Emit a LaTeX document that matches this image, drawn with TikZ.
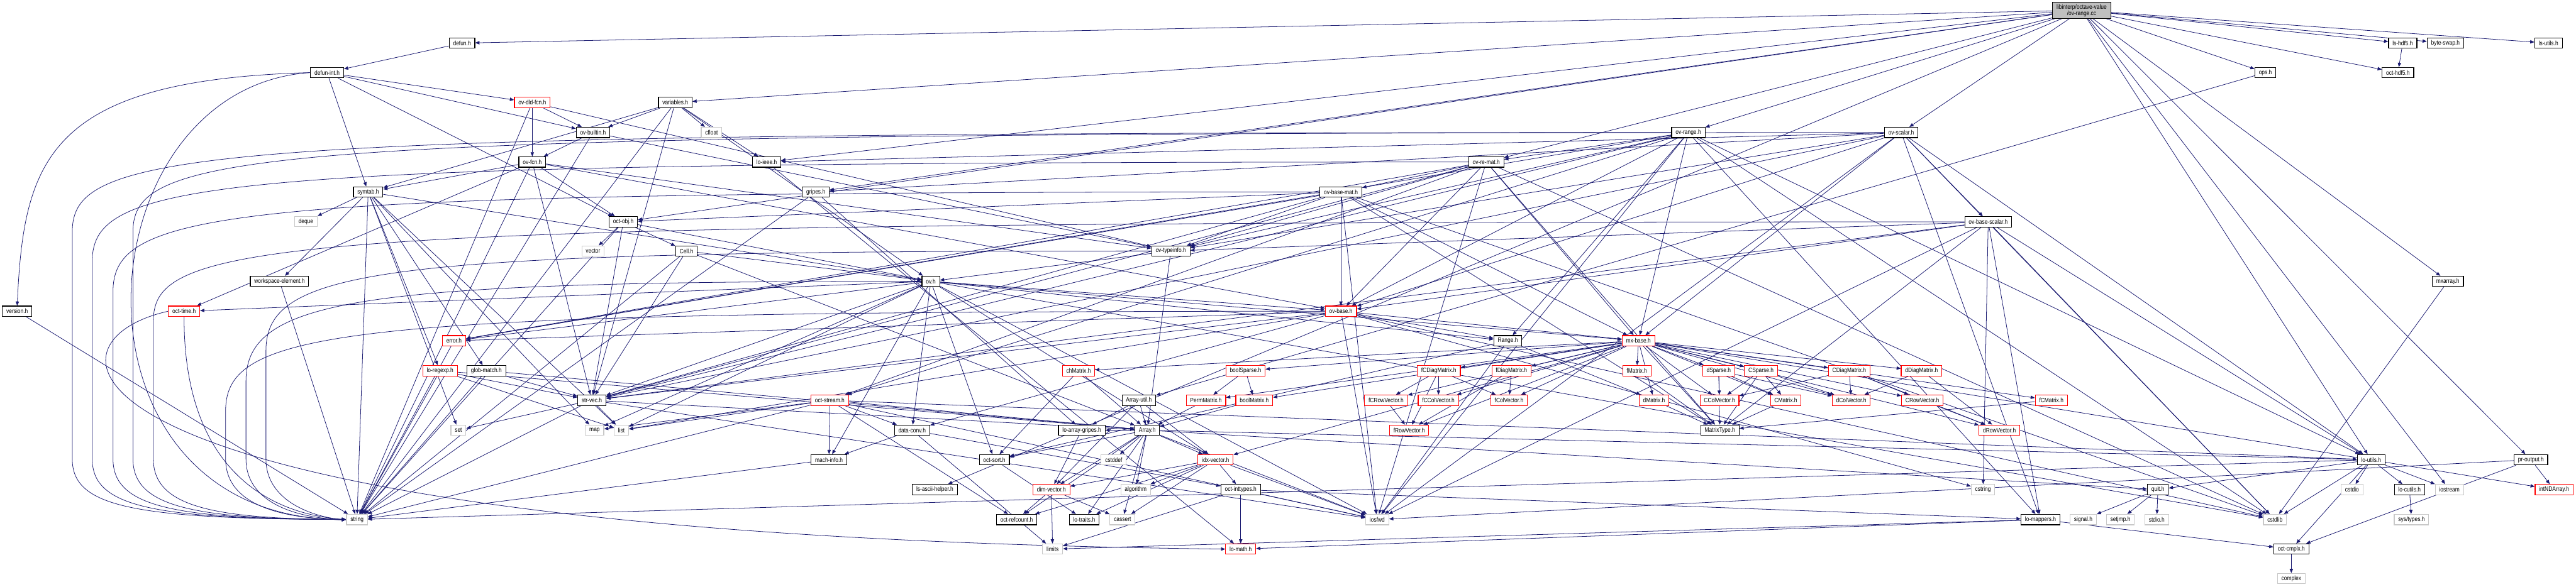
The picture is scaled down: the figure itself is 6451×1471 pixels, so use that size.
\documentclass[tikz,border=0pt]{standalone}
\usepackage{fontspec}
\setmainfont{Liberation Sans}[FakeStretch=0.83]
\usetikzlibrary{arrows.meta,backgrounds}
\definecolor{edgeblue}{HTML}{191970}
\definecolor{rootgray}{HTML}{BFBFBF}
\definecolor{sysgray}{HTML}{C8C8C8}

\tikzset{
  hdr/.style={draw=black, line width=0.5pt, fill=white,
    font=\fontsize{4.55}{4.4}\selectfont, inner xsep=0.1cm, inner ysep=0pt,
    minimum height=0.26cm},
  hdrred/.style={hdr, draw=red},
  sysinc/.style={hdr, draw=sysgray},
  inc/.style={draw=edgeblue, line width=0.35pt, -{Triangle[length=3pt,width=2.4pt]}},
}

\begin{document}
\begin{tikzpicture}[x=0.01cm,y=-0.01cm]
\useasboundingbox (0,0) rectangle (6451,1471);

% the file itself
\node[hdr, fill=rootgray, align=center, minimum height=0.4cm] (root) at (5213,26)
  {libinterp/octave-value\\/ov-range.cc};

% headers of the project
\foreach \nm/\px/\py/\txt in {
  defun/1157/108/defun.h, lshdf/6017/108/ls-hdf5.h, byteswap/6124/108/byte-swap.h,
  lsutils/6382/108/ls-utils.h, defunint/819/182/defun-int.h, ops/5673/182/ops.h,
  octhdf/6005/182/oct-hdf5.h, variables/1691/257/variables.h,
  builtin/1485/332/ov-builtin.h, ovrange/4228/332/ov-range.h,
  ovscalar/4761/332/ov-scalar.h, ovfcn/1333/406/ov-fcn.h, loieee/1920/406/lo-ieee.h,
  remat/3722/406/ov-re-mat.h, symtab/922/481/symtab.h, gripes/2043/481/gripes.h,
  basemat/3358/481/ov-base-mat.h, octobj/1561/556/oct-obj.h,
  basescalar/4979/556/ov-base-scalar.h, cell/1719/629/Cell.h,
  typeinfo/2932/629/ov-typeinfo.h, wselem/700/705/workspace-element.h,
  ovh/2331/705/ov.h, mxarray/6130/705/mxarray.h, version/43/780/version.h,
  range/3776/854/Range.h, globmatch/1218/929/glob-match.h, strvec/1482/1003/str-vec.h,
  arrayutil/2852/1003/Array-util.h, dataconv/2284/1078/data-conv.h,
  arraygripes/2709/1078/lo-array-gripes.h, array/2873/1078/Array.h,
  matrixtype/4307/1078/MatrixType.h, machinfo/2076/1152/mach-info.h,
  octsort/2490/1152/oct-sort.h, loutils/5938/1152/lo-utils.h,
  proutput/6338/1152/pr-output.h, asciihelper/2341/1227/ls-ascii-helper.h,
  inttypes/3107/1227/oct-inttypes.h, cutils/6034/1227/lo-cutils.h,
  quit/5404/1227/quit.h, refcount/2546/1302/oct-refcount.h,
  traits/2715/1302/lo-traits.h, mappers/5110/1302/lo-mappers.h,
  cmplx/5738/1376/oct-cmplx.h}
  \node[hdr] (\nm) at (\px,\py) {\txt};

% headers whose graph is truncated
\foreach \nm/\px/\py/\txt in {
  dldfcn/1333/257/ov-dld-fcn.h, octtime/461/780/oct-time.h, ovbase/3358/780/ov-base.h,
  error/1137/854/error.h, mxbase/4103/854/mx-base.h, regexp/1102/929/lo-regexp.h,
  chmatrix/2701/929/chMatrix.h, boolsparse/3119/929/boolSparse.h,
  fcdiag/3603/929/fCDiagMatrix.h, fdiag/3785/929/fDiagMatrix.h,
  fmatrix/4099/929/fMatrix.h, dsparse/4304/929/dSparse.h, csparse/4410/929/CSparse.h,
  cdiag/4631/929/CDiagMatrix.h, ddiag/4812/929/dDiagMatrix.h,
  octstream/2078/1003/oct-stream.h, permmatrix/3020/1003/PermMatrix.h,
  boolmatrix/3141/1003/boolMatrix.h, fcrow/3471/1003/fCRowVector.h,
  fccol/3602/1003/fCColVector.h, fcol/3779/1003/fColVector.h,
  dmatrix/4142/1003/dMatrix.h, ccol/4306/1003/CColVector.h, cmatrix/4472/1003/CMatrix.h,
  dcol/4636/1003/dColVector.h, crow/4814/1003/CRowVector.h,
  fcmatrix/5137/1003/fCMatrix.h, frow/3529/1078/fRowVector.h,
  drow/5007/1078/dRowVector.h, idxvector/3044/1152/idx-vector.h,
  dimvector/2633/1227/dim-vector.h, intnd/6396/1227/intNDArray.h,
  lomath/3107/1376/lo-math.h}
  \node[hdrred] (\nm) at (\px,\py) {\txt};

% system headers
\foreach \nm/\px/\py/\txt in {
  deque/766/555/deque, cfloat/1782/332/cfloat, vector/1485/629/vector,
  set/1148/1078/set, map/1489/1078/map, list/1556/1078/list,
  cstddef/2789/1152/cstddef, algorithm/2844/1227/algorithm,
  cassert/2811/1302/cassert, limits/2636/1376/limits, iosfwd/3449/1302/iosfwd,
  cstring/4966/1227/cstring, signal/5217/1302/signal.h, setjmp/5310/1302/setjmp.h,
  stdio/5401/1302/stdio.h, cstdlib/5697/1302/cstdlib, cstdio/5890/1227/cstdio,
  iostream/6134/1227/iostream, complex/5738/1450/complex, string/894/1302/string}
  \node[sysinc] (\nm) at (\px,\py) {\txt};
\node[sysinc] (systypes) at (6039,1302) {sys/types.h};

\begin{pgfonlayer}{background}
\foreach \src/\dsts in {
  root/{defun,variables,loieee,gripes,ops,octobj,ovrange,remat,ovscalar,lshdf,byteswap,lsutils,octhdf,mxarray,loutils,proutput,iostream,asciihelper},
  defun/{defunint},
  defunint/{octobj,builtin,dldfcn,symtab},
  dldfcn/{string,ovfcn,builtin,typeinfo},
  builtin/{string,ovfcn,typeinfo},
  variables/{cfloat,string,loieee,ovh,builtin,symtab,strvec},
  ovfcn/{string,octtime,strvec,octobj,ovbase,typeinfo,symtab},
  symtab/{deque,list,map,set,string,globmatch,regexp,ovh,wselem},
  wselem/{string}, version/{string},
  octobj/{string,vector,strvec,cell,ovh},
  cell/{string,array,strvec,ovh},
  gripes/{arraygripes,string}, loieee/{lomath},
  ovrange/{cstdlib,iosfwd,range,mappers,loutils,mxbase,strvec,error,octstream,ovbase,remat,typeinfo},
  remat/{cstdlib,iosfwd,mxbase,strvec,error,octstream,ovbase,basemat,typeinfo,matrixtype},
  basemat/{cstdlib,iosfwd,mxbase,matrixtype,strvec,error,ovbase,typeinfo,octobj},
  ovscalar/{cstdlib,iosfwd,loieee,mappers,loutils,mxbase,strvec,gripes,ovbase,basescalar,typeinfo},
  basescalar/{cstdlib,iosfwd,mappers,loutils,strvec,matrixtype,ovbase,typeinfo,cstring},
  typeinfo/{ovh,array},
  ovh/{cstdlib,iosfwd,list,map,range,dataconv,idxvector,machinfo,mxbase,octtime,strvec,octsort,ovbase,error},
  ovbase/{cstdlib,iosfwd,list,range,dataconv,mxbase,strvec,error,cstring},
  error/{string},
  globmatch/{array,strvec,string},
  regexp/{list,string,array,strvec},
  strvec/{iosfwd,list,set,string,array},
  machinfo/{string},
  octstream/{iosfwd,string,list,map,array,dataconv,loutils,machinfo,refcount},
  dataconv/{limits,machinfo,inttypes},
  chmatrix/{array,octsort},
  boolsparse/{permmatrix,boolmatrix},
  permmatrix/{array}, boolmatrix/{array},
  arrayutil/{array,dimvector,idxvector,arraygripes},
  array/{cassert,cstddef,algorithm,iosfwd,dimvector,idxvector,traits,loutils,octsort,quit,refcount,arraygripes},
  idxvector/{cassert,algorithm,iosfwd,dimvector,inttypes,refcount,traits},
  dimvector/{cassert,limits,refcount},
  octsort/{traits}, arraygripes/{dimvector},
  inttypes/{limits,lomath,mappers,iosfwd},
  mappers/{cmplx,lomath,limits},
  loutils/{cstdio,cstdlib,iostream,string,cutils,cmplx,quit},
  cutils/{systypes}, quit/{setjmp,stdio,signal},
  proutput/{intnd,cmplx,iosfwd}, cmplx/{complex},
  range/{iosfwd,dmatrix,octsort},
  mxbase/{matrixtype,boolmatrix,chmatrix,dmatrix,cmatrix,fmatrix,fcmatrix,dcol,ccol,fcol,fccol,drow,crow,frow,fcrow,ddiag,cdiag,fdiag,fcdiag,permmatrix,boolsparse,dsparse,csparse,intnd,idxvector},
  fcdiag/{fcrow,fccol,fcol,frow}, fdiag/{fcol,frow}, fcrow/{frow},
  fmatrix/{matrixtype}, dmatrix/{matrixtype},
  dsparse/{ccol,cmatrix,dcol,matrixtype}, csparse/{ccol,cmatrix,dcol,matrixtype},
  cdiag/{ccol,dcol,crow,drow}, ddiag/{dcol,drow},
  cmatrix/{matrixtype}, crow/{drow}, fcmatrix/{matrixtype},
  lshdf/{octhdf}, ops/{arrayutil}, mxarray/{cstdlib}}
  \foreach \dst in \dsts
    \draw[inc] (\src) -- (\dst);

% edges into string that run down the left side
\foreach \src/\xv/\sy in {ovrange/181/332, remat/231/406, basemat/283/481,
    ovscalar/333/332, basescalar/384/556, ovbase/565/780, ovh/616/705,
    typeinfo/666/629}
  \draw[inc] (\src.west) .. controls (\xv+300,\sy) and (\xv,\sy+40) .. (\xv,\sy+250)
    -- (\xv,1150) .. controls (\xv,1270) and (\xv+150,1300) .. (string.west);

% long edges that go round the left side
\draw[inc] (defunint.west) .. controls (120,200) and (60,400) .. (version.north);
\draw[inc] (defunint.west) .. controls (200,220) and (130,1300) .. (string.west);
\draw[inc] (octtime.south) .. controls (460,1200) and (700,1290) .. (string.west);
\draw[inc] (octtime.west) .. controls (60,860) and (100,1340) .. (lomath.west);
\end{pgfonlayer}

\end{tikzpicture}
\end{document}
